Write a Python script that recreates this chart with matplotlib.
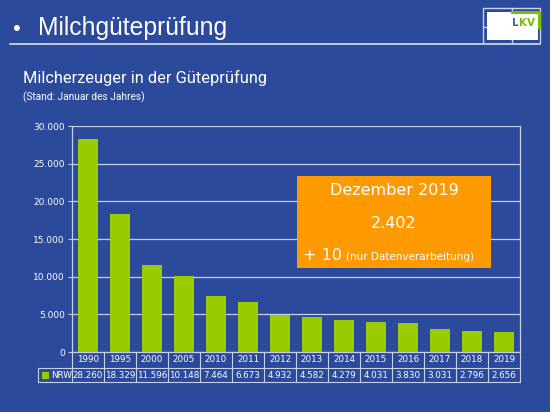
import matplotlib
matplotlib.use("Agg")
import matplotlib.pyplot as plt
from matplotlib.patches import Rectangle
from matplotlib.lines import Line2D
import matplotlib.transforms as mtransforms

years = ["1990", "1995", "2000", "2005", "2010", "2011", "2012", "2013",
         "2014", "2015", "2016", "2017", "2018", "2019"]
nrw = [28260, 18329, 11596, 10148, 7464, 6673, 4932, 4582, 4279, 4031,
       3830, 3031, 2796, 2656]
yticks = [0, 5000, 10000, 15000, 20000, 25000, 30000]
series_name = "NRW"

BG = "#2B4A9B"
GREEN = "#99CC00"
ORANGE = "#FF9900"
GRID = "#C8D0E4"
W, H = 550, 412

def fmt(v):
    return f"{v:,}".replace(",", ".")

fig = plt.figure(figsize=(5.5, 4.12), dpi=100, facecolor=BG)

# overlay axes in pixel coordinates for decorations
ov = fig.add_axes([0, 0, 1, 1])
ov.set_xlim(0, W)
ov.set_ylim(H, 0)
ov.axis("off")
ov.set_zorder(5)

# Title
ov.text(12, 29, "•", color="white", fontsize=16, va="center", ha="left",
        family="Liberation Sans")
ov.text(38, 28, "Milchgüteprüfung", color="white", fontsize=17.8, va="center",
        ha="left", family="Liberation Sans")
ov.add_line(Line2D([10, 540], [43.5, 43.5], color="#D8DEEE", lw=1.2))

# Logo
ov.add_line(Line2D([483, 483, 540, 540], [43, 8, 8, 43], color="#C8D0E4", lw=1))
ov.add_line(Line2D([512, 512], [8, 43], color="#C8D0E4", lw=1))
ov.add_line(Line2D([483, 540], [27, 27], color="#C8D0E4", lw=1))
ov.add_patch(Rectangle((487, 12), 51, 28, facecolor="white", edgecolor="none",
                       zorder=3))
ov.add_line(Line2D([512, 538.5, 538.5], [12, 12, 27], color="#77C000", lw=2.2,
                   zorder=4))
ov.text(512, 23, "L", color="#44689A", fontsize=7.5, fontweight="bold",
        ha="left", va="center", family="DejaVu Sans", zorder=4)
ov.text(518.5, 23, "KV", color="#77C000", fontsize=7.5, fontweight="bold",
        ha="left", va="center", family="DejaVu Sans", zorder=4)

# Subtitle
ov.text(23, 78, "Milcherzeuger in der Güteprüfung", color="white", fontsize=11.8,
        ha="left", va="center", family="Roboto")
ov.text(23, 97, "(Stand: Januar des Jahres)", color="white", fontsize=7.3,
        ha="left", va="center", family="Roboto")

# Chart axes
L, R, T, B = 72, 520, 126, 352
ax = fig.add_axes([L / W, (H - B) / H, (R - L) / W, (B - T) / H])
ax.set_facecolor("none")
x = list(range(len(years)))
ax.bar(x, nrw, width=0.62, color=GREEN, zorder=3)
ax.set_xlim(-0.5, len(years) - 0.5)
ax.set_ylim(0, 30000)
ax.set_yticks(yticks)
ax.set_yticklabels([fmt(v) for v in yticks], color="white", fontsize=6.5)
ax.yaxis.grid(True, color=GRID, lw=0.9, zorder=0)
ax.tick_params(axis="y", length=3, color=GRID, pad=2)
ax.set_xticks([])
for s in ["top", "bottom"]:
    ax.spines[s].set_visible(False)
ax.spines["left"].set_color(GRID)
ax.spines["right"].set_color(GRID)
ax.spines["left"].set_linewidth(0.9)
ax.spines["right"].set_linewidth(0.9)

# Data table below the axis
ph = (B - T)
r1 = -16 / ph
r2 = -30 / ph
trans = mtransforms.blended_transform_factory(ax.transData, ax.transAxes)
n = len(years)
for i in range(n + 1):
    xv = i - 0.5
    ax.add_line(Line2D([xv, xv], [0, r2], transform=trans, color=GRID, lw=0.8,
                       clip_on=False))
ax.add_line(Line2D([-0.5, n - 0.5], [0, 0], transform=trans, color=GRID,
                   lw=0.9, clip_on=False))
ax.add_line(Line2D([-0.5 - 34 / 32, n - 0.5], [r1, r1], transform=trans,
                   color=GRID, lw=0.8, clip_on=False))
ax.add_line(Line2D([-0.5 - 34 / 32, n - 0.5], [r2, r2], transform=trans,
                   color=GRID, lw=0.8, clip_on=False))
ax.add_line(Line2D([-0.5 - 34 / 32] * 2, [r1, r2], transform=trans,
                   color=GRID, lw=0.8, clip_on=False))
for i, (yr, v) in enumerate(zip(years, nrw)):
    ax.text(i, (0 + r1) / 2, yr, transform=trans, ha="center", va="center",
            color="white", fontsize=6.3, clip_on=False)
    ax.text(i, (r1 + r2) / 2, fmt(v), transform=trans, ha="center",
            va="center", color="white", fontsize=6.3, clip_on=False)
# legend key in table
ax.add_patch(Rectangle((-0.5 - 30 / 32, (r1 + r2) / 2 - 3.5 / ph), 7 / 32,
                       7 / ph, transform=trans, facecolor=GREEN,
                       edgecolor="none", clip_on=False))
ax.text(-0.5 - 21 / 32, (r1 + r2) / 2, series_name, transform=trans,
        ha="left", va="center", color="white", fontsize=6.3, clip_on=False)

# Orange info box
ov.add_patch(Rectangle((297, 176), 194, 92, facecolor=ORANGE,
                       edgecolor="none", zorder=2))
ov.text(394, 190, "Dezember 2019", color="white", fontsize=11.5, ha="center",
        va="center")
ov.text(394, 223, "2.402", color="white", fontsize=11.5, ha="center",
        va="center")
ov.text(303, 256, "+ 10", color="white", fontsize=11.5, ha="left",
        va="center")
ov.text(346, 257, "(nur Datenverarbeitung)", color="white", fontsize=7.5,
        ha="left", va="center")

fig.savefig("out.png", dpi=100, facecolor=BG)
